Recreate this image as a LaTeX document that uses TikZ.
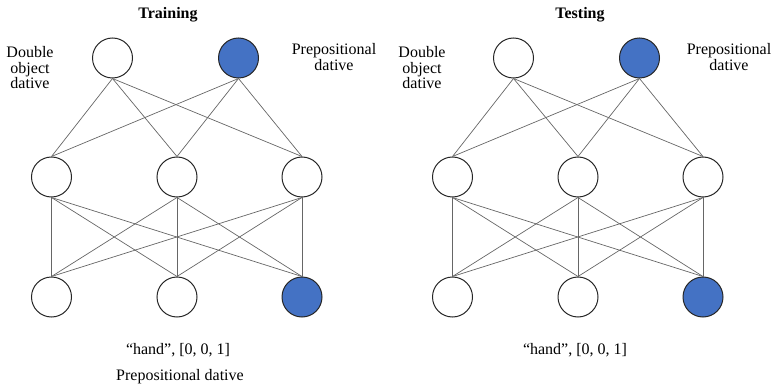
\documentclass[tikz,border=0pt]{standalone}
\usepackage{fontspec}
\setmainfont{Liberation Serif}
\usetikzlibrary{positioning}
\definecolor{actblue}{RGB}{68,114,196}

\begin{document}
\begin{tikzpicture}[x=1pt,y=1pt,
  neuron/.style={circle, draw=black!85, line width=1pt, minimum size=40pt, inner sep=0pt},
  active/.style={neuron, fill=actblue},
  link/.style={draw=black!60, line width=0.7pt},
  lbl/.style={font=\fontsize{16}{15.5}\selectfont, align=center}]
\useasboundingbox (0,0) rectangle (776,386);

% training net on the left, testing net on the right
\foreach \n/\dx in {tr/0,te/401} {
  \node[neuron] (\n-o1) at (112.5+\dx,328) {};
  \node[active] (\n-o2) at (238.5+\dx,328) {};
  \foreach \i/\x in {1/51.5,2/177,3/302}
    \node[neuron] (\n-h\i) at (\x+\dx,209) {};
  \foreach \i/\x/\s in {1/51.5/neuron,2/177/neuron,3/302/active}
    \node[\s] (\n-i\i) at (\x+\dx,89) {};
  \foreach \o in {1,2}
    \foreach \h in {1,2,3}
      \draw[link] (\n-o\o.south) -- (\n-h\h.north);
  \foreach \h in {1,2,3}
    \foreach \i in {1,2,3}
      \draw[link] (\n-h\h.south) -- (\n-i\i.north);
}

\node[lbl, font=\fontsize{16}{15.5}\selectfont\bfseries] (tr-title) at (168,371) {Training};
\node[lbl, font=\fontsize{16}{15.5}\selectfont\bfseries] (te-title) at (580,371) {Testing};
\node[lbl] (tr-dod) at (30,318) {Double\\object\\dative};
\node[lbl] (tr-pd) at (334,329) {Prepositional\\dative};
\node[lbl] (te-dod) at (422,318) {Double\\object\\dative};
\node[lbl] (te-pd) at (729,329) {Prepositional\\dative};
\node[lbl] (tr-input) at (178,36) {“hand”, [0, 0, 1]};
\node[lbl] (tr-class) at (180,9) {Prepositional dative};
\node[lbl] (te-input) at (575,36) {“hand”, [0, 0, 1]};
\end{tikzpicture}
\end{document}
